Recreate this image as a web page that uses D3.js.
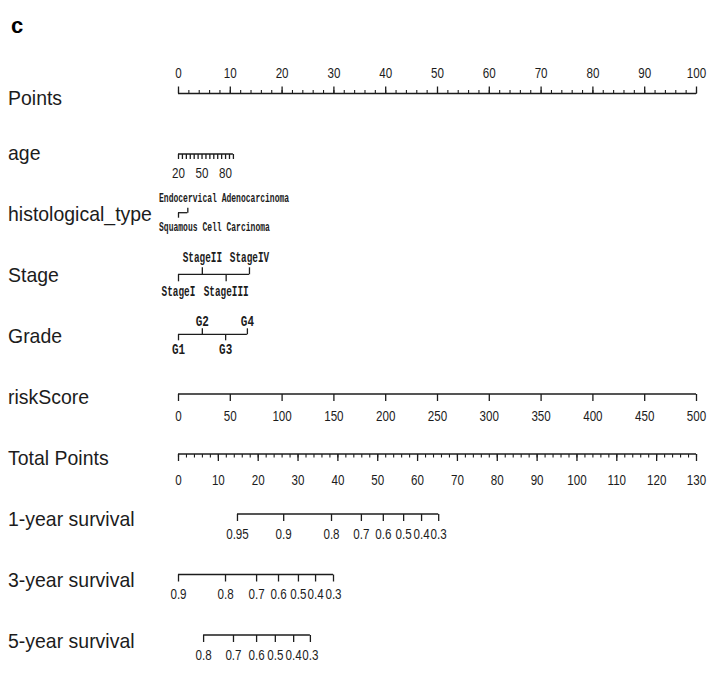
<!DOCTYPE html>
<html>
<head>
<meta charset="utf-8">
<script src="https://cdn.jsdelivr.net/npm/d3@7"></script>
<style>
  html, body { margin: 0; padding: 0; background: #fff; }
  svg { display: block; }
</style>
</head>
<body>
<svg id="chart" width="708" height="676"></svg>
<script>
// ---- Nomogram variables ----
const pointsTicks = [0, 10, 20, 30, 40, 50, 60, 70, 80, 90, 100];

const ageTicks = [20, 25, 30, 35, 40, 45, 50, 55, 60, 65, 70, 75, 80, 85, 90];
const ageLabels = [20, 50, 80];
const ageRange = [20, 90];
const agePoints = [0, 10.6];

const histTypes = ["Squamous Cell Carcinoma", "Endocervical Adenocarcinoma"];
const histPoints = [0, 1.8];

const stages = ["StageI", "StageII", "StageIII", "StageIV"];
const stagePoints = [0, 4.6, 9.2, 13.7];

const grades = ["G1", "G2", "G3", "G4"];
const gradePoints = [0, 4.6, 9.1, 13.3];

const riskTicks = [0, 50, 100, 150, 200, 250, 300, 350, 400, 450, 500];
const riskPoints = [0, 100];

const totalTicks = [0, 10, 20, 30, 40, 50, 60, 70, 80, 90, 100, 110, 120, 130];

const surv1Probs = [0.95, 0.9, 0.8, 0.7, 0.6, 0.5, 0.4, 0.3];
const surv1Points = [14.8, 26.4, 38.4, 45.9, 51.4, 56.5, 61.0, 65.3];

const surv3Probs = [0.9, 0.8, 0.7, 0.6, 0.5, 0.4, 0.3];
const surv3Points = [0, 11.8, 19.6, 25.1, 30.1, 34.4, 38.9];

const surv5Probs = [0.8, 0.7, 0.6, 0.5, 0.4, 0.3];
const surv5Points = [6.3, 13.8, 19.6, 24.3, 28.9, 33.1];

// ---- Drawing ----
const svg = d3.select("#chart");
const ink = "#1c1c1c";
const numFont = "'Liberation Sans', Arial, sans-serif";
const monoFont = "'Liberation Mono', 'DejaVu Sans Mono', monospace";

const xPts = d3.scaleLinear().domain([0, 100]).range([178, 696]);
const xTot = d3.scaleLinear().domain([0, 130]).range([178, 696]);

// Row titles on the left
const rowTitles = [
  ["Points", 105], ["age", 160], ["histological_type", 221], ["Stage", 282],
  ["Grade", 343], ["riskScore", 404], ["Total Points", 465],
  ["1-year survival", 526], ["3-year survival", 587], ["5-year survival", 648]
];
svg.append("g").selectAll("text").data(rowTitles).join("text")
  .attr("transform", d => `translate(8,${d[1]}) scale(0.95,1)`)
  .attr("font-family", numFont).attr("font-size", 20.5).attr("fill", ink)
  .text(d => d[0]);

svg.append("text").attr("x", 11).attr("y", 33)
  .attr("font-family", numFont).attr("font-size", 22).attr("font-weight", "bold")
  .attr("fill", "#000").text("c");

function styleAxis(g, opts) {
  g.attr("color", ink).attr("font-family", opts.font || numFont)
    .attr("font-size", opts.size || 14);
  g.selectAll(".tick line").attr("stroke-width", 1.3);
  g.selectAll(".domain").attr("stroke-width", 1.3);
  g.selectAll(".tick text")
    .attr("dy", null)
    .attr("y", opts.labelY)
    .attr("transform", `scale(${opts.sx || 0.83},1)`);
}

// Numeric axis with a continuous baseline
function numericAxis(scale, y, values, dir, tickLen, labelY, minor, labels) {
  const g = svg.append("g").attr("transform", `translate(0,${y})`);
  if (minor) {
    const mg = g.append("g");
    const mAxis = (dir === "up" ? d3.axisTop(scale) : d3.axisBottom(scale))
      .tickValues(minor).tickSize(3.5).tickSizeOuter(0).tickFormat("");
    mg.call(mAxis);
    mg.select(".domain").remove();
    mg.attr("color", ink).selectAll(".tick line").attr("stroke-width", 1.1);
  }
  const ag = g.append("g");
  const axis = (dir === "up" ? d3.axisTop(scale) : d3.axisBottom(scale))
    .tickValues(values).tickSize(tickLen).tickSizeOuter(0)
    .tickFormat(d => labels ? (labels.includes(d) ? String(d) : "") : String(d));
  ag.call(axis);
  ag.select(".domain").remove();
  ag.append("line")
    .attr("x1", scale(values[0])).attr("x2", scale(values[values.length - 1]))
    .attr("stroke", ink).attr("stroke-width", 1.3);
  styleAxis(ag, { labelY });
  return ag;
}

// Points scale
numericAxis(xPts, 93.5, pointsTicks, "up", 7, -15.5, d3.range(0, 101, 2));

// Age
const xAge = d3.scaleLinear().domain(ageRange).range(agePoints.map(xPts));
numericAxis(xAge, 154, ageTicks, "down", 5, 24, null, ageLabels);

// riskScore
const xRisk = d3.scaleLinear().domain([riskTicks[0], riskTicks[riskTicks.length - 1]])
  .range(riskPoints.map(xPts));
numericAxis(xRisk, 394, riskTicks, "down", 7, 27.5);

// Total points
numericAxis(xTot, 454, totalTicks, "down", 7, 31, d3.range(0, 131, 2));

// Survival probability axes
function survAxis(probs, pts, y) {
  const s = d3.scaleLinear().domain(probs).range(pts.map(xTot));
  numericAxis(s, y, probs, "down", 7, 25);
}
survAxis(surv1Probs, surv1Points, 514);
survAxis(surv3Probs, surv3Points, 574.5);
survAxis(surv5Probs, surv5Points, 635);

// Categorical axes: alternate ticks go down (label below) and up (label above)
function factorAxis(names, pts, y, o) {
  const g = svg.append("g").attr("transform", `translate(0,${y})`);
  const pos = d3.scaleOrdinal().domain(names).range(pts.map(xPts));
  const down = names.filter((d, i) => i % 2 === 0);
  const up = names.filter((d, i) => i % 2 === 1);
  const mk = (axisFn, subset, labelY) => {
    const ag = g.append("g");
    ag.call(axisFn(xPts).tickValues(subset.map(n => pts[names.indexOf(n)]))
      .tickSize(o.tick).tickSizeOuter(0)
      .tickFormat(v => names[pts.indexOf(v)]));
    ag.select(".domain").remove();
    styleAxis(ag, { labelY, font: monoFont, size: o.size, sx: o.sx });
    if (o.leftAlign) {
      ag.selectAll(".tick").each(function () {
        const t = d3.select(this);
        const tx = +t.attr("transform").match(/translate\(([-\d.]+)/)[1];
        t.select("text").attr("text-anchor", "start")
          .attr("x", (o.leftAlign - tx) / o.sx);
      });
    }
    ag.selectAll(".tick text").attr("font-weight", "bold");
  };
  mk(d3.axisBottom, down, o.below);
  mk(d3.axisTop, up, o.above);
  g.append("line")
    .attr("x1", pos(names[0])).attr("x2", pos(names[names.length - 1]))
    .attr("stroke", ink).attr("stroke-width", 1.3);
}

factorAxis(histTypes, histPoints, 212.7,
  { tick: 5, above: -10.5, below: 18, size: 12, sx: 0.67, leftAlign: 159 });
factorAxis(stages, stagePoints, 274.3,
  { tick: 7, above: -12.6, below: 22, size: 14, sx: 0.67 });
factorAxis(grades, gradePoints, 334.3,
  { tick: 6, above: -8.3, below: 19.5, size: 15, sx: 0.73 });
</script>
</body>
</html>
